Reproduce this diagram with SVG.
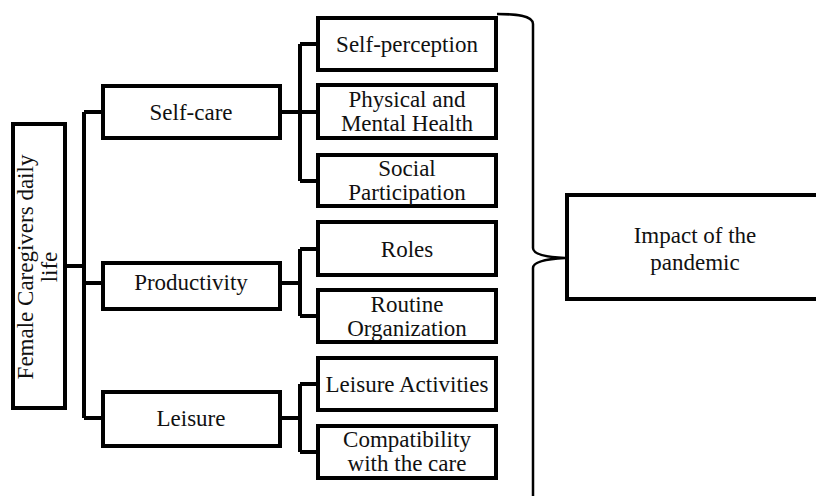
<svg xmlns="http://www.w3.org/2000/svg" width="816" height="496" viewBox="0 0 816 496">
<style>
.box{fill:#fff;stroke:#000;stroke-width:4}
.ln{fill:none;stroke:#000;stroke-width:4}
.br{fill:none;stroke:#000;stroke-width:2.5}
.t{font-family:'Liberation Serif','DejaVu Serif',serif;font-size:23px;fill:#111;text-anchor:middle}
</style>
<rect width="816" height="496" fill="#fff"/>
<g id="connectors">
<path class="ln" d="M67 266H84M84 112V418M84 112H103M84 283H103M84 418H103"/>
<path class="ln" d="M282 112H300M300 44V181M300 44H318M300 112H318M300 181H318"/>
<path class="ln" d="M282 283H300M300 249V316M300 249H318M300 316H318"/>
<path class="ln" d="M282 418H300M300 384V452M300 384H318M300 452H318"/>
<path class="br" d="M497 14C515 14 533 15 533 24V248C533 254 545 257 565 258C545 259 533 262 533 268V500"/>
</g>
<g class="t" font-family="Liberation Serif, serif">
<g id="n-main"><rect class="box" x="13" y="124" width="52" height="284"/>
<text transform="translate(33,267) rotate(-90)">Female Caregivers daily</text>
<text transform="translate(57,267) rotate(-90)">life</text></g>
<g id="n-selfcare"><rect class="box" x="103" y="86" width="177" height="52"/><text x="191" y="120">Self-care</text></g>
<g id="n-productivity"><rect class="box" x="103" y="263" width="177" height="46"/><text x="191" y="290">Productivity</text></g>
<g id="n-leisure"><rect class="box" x="103" y="392" width="177" height="54"/><text x="191" y="426">Leisure</text></g>
<g id="n-selfperception"><rect class="box" x="318" y="18" width="178" height="52"/><text x="407" y="52">Self-perception</text></g>
<g id="n-health"><rect class="box" x="318" y="85" width="178" height="53"/><text x="407" y="107">Physical and</text><text x="407" y="131">Mental Health</text></g>
<g id="n-social"><rect class="box" x="318" y="155" width="178" height="51"/><text x="407" y="176">Social</text><text x="407" y="200">Participation</text></g>
<g id="n-roles"><rect class="box" x="318" y="222" width="178" height="53"/><text x="407" y="257">Roles</text></g>
<g id="n-routine"><rect class="box" x="318" y="290" width="178" height="52"/><text x="407" y="312">Routine</text><text x="407" y="336">Organization</text></g>
<g id="n-leisureact"><rect class="box" x="318" y="358" width="178" height="52"/><text x="407" y="392">Leisure Activities</text></g>
<g id="n-compat"><rect class="box" x="318" y="426" width="178" height="52"/><text x="407" y="447">Compatibility</text><text x="407" y="471">with the care</text></g>
<g id="n-impact"><rect class="box" x="567" y="195" width="253" height="104"/><text x="695" y="243">Impact of the</text><text x="695" y="270">pandemic</text></g>
</g>
</svg>
